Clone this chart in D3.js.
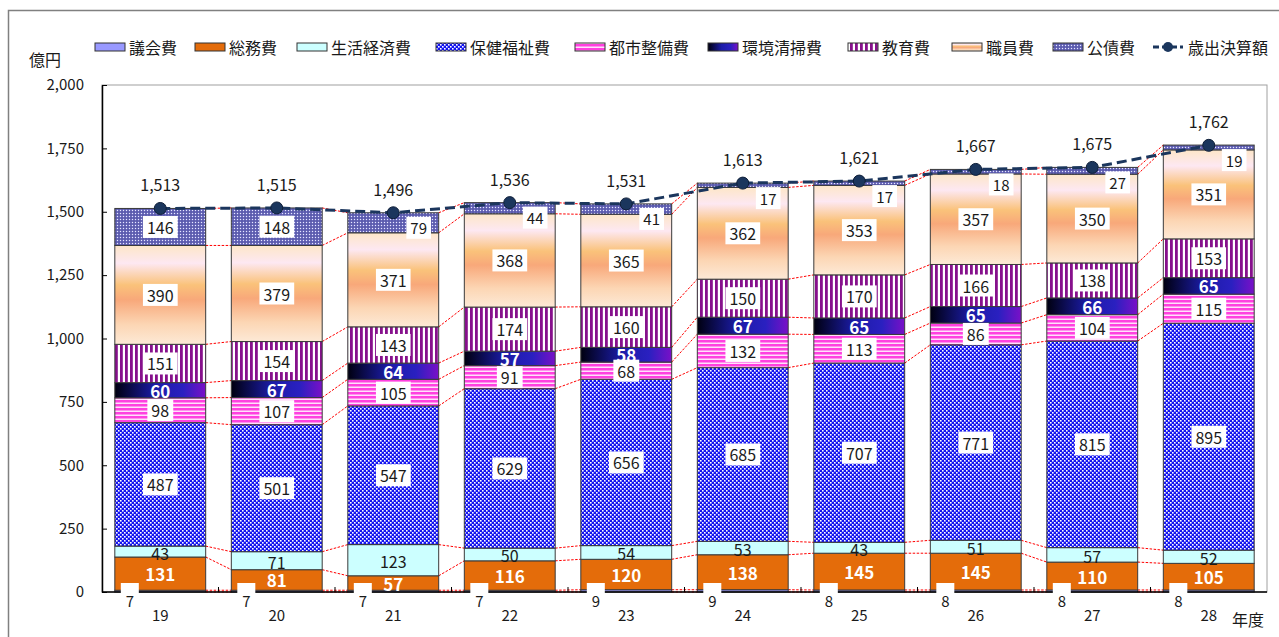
<!DOCTYPE html>
<html lang="ja">
<head>
<meta charset="utf-8">
<title>歳出決算額の推移</title>
<script src="https://d3js.org/d3.v7.min.js"></script>
<style>
body { margin: 0; background: #fff; }
text { font-family: "Noto Sans CJK JP", "Noto Sans", sans-serif; fill: #1a1a1a; }
</style>
</head>
<body>
<div id="main"></div>
<script>
var years = ["19", "20", "21", "22", "23", "24", "25", "26", "27", "28"];

// 億円, bottom of stack to top
var gikai    = [7, 7, 7, 7, 9, 9, 8, 8, 8, 8];
var somu     = [131, 81, 57, 116, 120, 138, 145, 145, 110, 105];
var seikatsu = [43, 71, 123, 50, 54, 53, 43, 51, 57, 52];
var hoken    = [487, 501, 547, 629, 656, 685, 707, 771, 815, 895];
var toshi    = [98, 107, 105, 91, 68, 132, 113, 86, 104, 115];
var kankyo   = [60, 67, 64, 57, 58, 67, 65, 65, 66, 65];
var kyoiku   = [151, 154, 143, 174, 160, 150, 170, 166, 138, 153];
var shokuin  = [390, 379, 371, 368, 365, 362, 353, 357, 350, 351];
var kosai    = [146, 148, 79, 44, 41, 17, 17, 18, 27, 19];
var total    = [1513, 1515, 1496, 1536, 1531, 1613, 1621, 1667, 1675, 1762];

var yTicks = [0, 250, 500, 750, 1000, 1250, 1500, 1750, 2000];

var series = [
    {name: "議会費", values: gikai, fill: "#9999ff", label: "below"},
    {name: "総務費", values: somu, fill: "#e46c0a", label: "bold"},
    {name: "生活経済費", values: seikatsu, fill: "#ccffff", label: "plain"},
    {name: "保健福祉費", values: hoken, fill: "url(#pHoken)", label: "box"},
    {name: "都市整備費", values: toshi, fill: "url(#pToshi)", label: "box"},
    {name: "環境清掃費", values: kankyo, fill: "url(#gKankyo)", label: "bold"},
    {name: "教育費", values: kyoiku, fill: "url(#pKyoiku)", label: "box"},
    {name: "職員費", values: shokuin, fill: "url(#gShokuin)", label: "box"},
    {name: "公債費", values: kosai, fill: "url(#pKosai)", label: "top"}
];

var width = 1279, height = 637;
var margin = {left: 102, right: 12, top: 85, bottom: 45};

var svg = d3.select("#main").append("svg")
    .attr("width", width)
    .attr("height", height);

// patterns & gradients
var defs = svg.append("defs");

var p = defs.append("pattern").attr("id", "pHoken").attr("patternUnits", "userSpaceOnUse")
    .attr("width", 4).attr("height", 4);
p.append("rect").attr("width", 4).attr("height", 4).attr("fill", "#1414f0");
p.append("rect").attr("width", 1.6).attr("height", 1.6).attr("fill", "#ffffff");
p.append("rect").attr("x", 2).attr("y", 2).attr("width", 1.6).attr("height", 1.6).attr("fill", "#ffffff");

p = defs.append("pattern").attr("id", "pToshi").attr("patternUnits", "userSpaceOnUse")
    .attr("width", 4).attr("height", 4);
p.append("rect").attr("width", 4).attr("height", 4).attr("fill", "#ff40e0");
p.append("rect").attr("y", 2.5).attr("width", 4).attr("height", 1.5).attr("fill", "#ffe0fa");

p = defs.append("pattern").attr("id", "pKyoiku").attr("patternUnits", "userSpaceOnUse")
    .attr("width", 5).attr("height", 5);
p.append("rect").attr("width", 5).attr("height", 5).attr("fill", "#ffffff");
p.append("rect").attr("width", 2.8).attr("height", 5).attr("fill", "#86108c");

p = defs.append("pattern").attr("id", "pKosai").attr("patternUnits", "userSpaceOnUse")
    .attr("width", 3).attr("height", 3);
p.append("rect").attr("width", 3).attr("height", 3).attr("fill", "#6c6cbc");
p.append("rect").attr("width", 1).attr("height", 1).attr("fill", "#e8e8ff");
p.append("rect").attr("x", 1.5).attr("y", 1.5).attr("width", 1).attr("height", 1).attr("fill", "#2c2c80");

var g1 = defs.append("linearGradient").attr("id", "gKankyo")
    .attr("x1", 0).attr("y1", 0).attr("x2", 1).attr("y2", 0);
g1.append("stop").attr("offset", "0%").attr("stop-color", "#000010");
g1.append("stop").attr("offset", "45%").attr("stop-color", "#1c1ca8");
g1.append("stop").attr("offset", "75%").attr("stop-color", "#2a20c0");
g1.append("stop").attr("offset", "100%").attr("stop-color", "#7a10c8");

var g2 = defs.append("linearGradient").attr("id", "gShokuin")
    .attr("x1", 0).attr("y1", 0).attr("x2", 0).attr("y2", 1);
g2.append("stop").attr("offset", "0%").attr("stop-color", "#fde6c8");
g2.append("stop").attr("offset", "18%").attr("stop-color", "#fde8f2");
g2.append("stop").attr("offset", "40%").attr("stop-color", "#fac27a");
g2.append("stop").attr("offset", "55%").attr("stop-color", "#f8a87a");
g2.append("stop").attr("offset", "80%").attr("stop-color", "#fcd6b4");
g2.append("stop").attr("offset", "100%").attr("stop-color", "#fde9d6");

// outer frame
svg.append("rect").attr("x", 8.5).attr("y", 10.5).attr("width", 1300).attr("height", 700)
    .attr("fill", "none").attr("stroke", "#808080").attr("stroke-width", 1.5);

var x = d3.scaleBand().domain(years)
    .range([margin.left, width - margin.right])
    .paddingInner(0.22).paddingOuter(0.11);
var y = d3.scaleLinear().domain([0, 2000]).range([height - margin.bottom, margin.top]);

// plot area border
svg.append("rect").attr("x", margin.left).attr("y", y(2000))
    .attr("width", width - margin.right - margin.left).attr("height", y(0) - y(2000))
    .attr("fill", "none").attr("stroke", "#a0a0a0").attr("stroke-width", 1);

// stack
var rows = years.map(function(yr, i) {
    var r = {year: yr};
    series.forEach(function(s) { r[s.name] = s.values[i]; });
    return r;
});
var stack = d3.stack().keys(series.map(function(s) { return s.name; }));
var stacked = stack(rows);

// red connectors between neighbouring bars
var conn = svg.append("g");
years.forEach(function(yr, i) {
    if (i === years.length - 1) return;
    var xa = x(yr) + x.bandwidth(), xb = x(years[i + 1]);
    var vals = [0].concat(stacked.map(function(l) { return l[i][1]; }));
    var nvals = [0].concat(stacked.map(function(l) { return l[i + 1][1]; }));
    vals.forEach(function(v, k) {
        conn.append("line")
            .attr("x1", xa).attr("y1", y(v)).attr("x2", xb).attr("y2", y(nvals[k]))
            .attr("stroke", "#ff0000").attr("stroke-width", 1).attr("stroke-dasharray", "2.5,1.5");
    });
});

// bars
var layers = svg.append("g").selectAll("g")
    .data(stacked)
    .enter().append("g")
    .attr("fill", function(d, i) { return series[i].fill; });

layers.selectAll("rect")
    .data(function(d) { return d; })
    .enter().append("rect")
    .attr("x", function(d) { return x(d.data.year); })
    .attr("y", function(d) { return y(d[1]); })
    .attr("width", x.bandwidth())
    .attr("height", function(d) { return y(d[0]) - y(d[1]); })
    .attr("stroke", "#3a3a3a")
    .attr("stroke-width", 1);

// axes
var yAxis = d3.axisLeft(y).tickValues(yTicks).tickFormat(d3.format(","))
    .tickSizeInner(-5).tickSizeOuter(0).tickPadding(18);
var ya = svg.append("g").attr("transform", "translate(" + margin.left + ",0)").call(yAxis);
ya.select(".domain").attr("stroke", "#000").attr("stroke-width", 1.5);
ya.selectAll(".tick line").attr("stroke", "#000");
ya.selectAll("text").style("font-size", "15px").attr("fill", "#1a1a1a");

var xa = svg.append("g").attr("transform", "translate(0," + y(0) + ")");
xa.append("line").attr("x1", margin.left).attr("x2", width - margin.right)
    .attr("stroke", "#000").attr("stroke-width", 1.5);
years.forEach(function(yr, i) {
    if (i === 0) return;
    var bx = x(yr) - x.step() * x.paddingInner() / 2;
    xa.append("line").attr("x1", bx).attr("x2", bx).attr("y1", 0).attr("y2", -5)
        .attr("stroke", "#000");
});
xa.selectAll(".yr").data(years).enter().append("text")
    .attr("x", function(d) { return x(d) + x.bandwidth() / 2; })
    .attr("y", 29)
    .attr("text-anchor", "middle")
    .style("font-size", "15px")
    .text(function(d) { return d; });

svg.append("text").attr("x", 1248).attr("y", 626).attr("text-anchor", "middle")
    .style("font-size", "16px").text("年度");
svg.append("text").attr("x", 45).attr("y", 66).attr("text-anchor", "middle")
    .style("font-size", "16px").text("億円");

// total line
var line = d3.line()
    .x(function(d, i) { return x(years[i]) + x.bandwidth() / 2; })
    .y(function(d) { return y(d); });
svg.append("path").datum(total)
    .attr("d", line)
    .attr("fill", "none")
    .attr("stroke", "#1b365d")
    .attr("stroke-width", 3)
    .attr("stroke-dasharray", "10,5");

// segment labels
var lab = svg.append("g");
function boxLabel(cx, cy, txt, size) {
    var t = lab.append("text").attr("x", cx).attr("y", cy)
        .attr("text-anchor", "middle").attr("dominant-baseline", "central")
        .style("font-size", size + "px").text(txt);
    var b = t.node().getBBox();
    lab.insert("rect", function() { return t.node(); })
        .attr("x", b.x - 4).attr("y", cy - 11).attr("width", b.width + 8).attr("height", 22)
        .attr("fill", "#fff");
}

stacked.forEach(function(layer, si) {
    var s = series[si];
    layer.forEach(function(d, i) {
        var x0 = x(years[i]), cx = x0 + x.bandwidth() / 2;
        var cy = (y(d[0]) + y(d[1])) / 2;
        var v = s.values[i];
        if (s.label === "below") {
            lab.append("rect").attr("x", x0 + 6).attr("y", 583).attr("width", 18).attr("height", 14)
                .attr("fill", "#fff");
            lab.append("text").attr("x", x0 + 15).attr("y", 607).attr("text-anchor", "middle")
                .style("font-size", "15px").text(v);
        } else if (s.label === "bold") {
            lab.append("text").attr("x", cx).attr("y", cy).attr("text-anchor", "middle")
                .attr("dominant-baseline", "central")
                .style("font-size", "17px").style("font-weight", "bold")
                .style("fill", "#fff").text(v);
        } else if (s.label === "plain") {
            lab.append("text").attr("x", cx).attr("y", cy + 1).attr("text-anchor", "middle")
                .attr("dominant-baseline", "central")
                .style("font-size", "16px").text(v);
        } else if (s.label === "top" && v < 100) {
            boxLabel(x0 + x.bandwidth() - 20, y(d[1]) + 15, v, 15);
        } else {
            boxLabel(cx, cy, v, 16);
        }
    });
});

// markers + total labels
svg.append("g").selectAll("circle").data(total).enter().append("circle")
    .attr("cx", function(d, i) { return x(years[i]) + x.bandwidth() / 2; })
    .attr("cy", function(d) { return y(d); })
    .attr("r", 6)
    .attr("fill", "#1b365d")
    .attr("stroke", "#0e1e38");

svg.append("g").selectAll("text").data(total).enter().append("text")
    .attr("x", function(d, i) { return x(years[i]) + x.bandwidth() / 2; })
    .attr("y", function(d) { return y(d) - 17; })
    .attr("text-anchor", "middle")
    .style("font-size", "16px")
    .text(d3.format(","));

// legend
var legendX = [95, 195, 297, 436, 575, 708, 848, 952, 1053];
var leg = svg.append("g");
series.forEach(function(s, i) {
    var lx = legendX[i];
    leg.append("rect").attr("x", lx).attr("y", 43).attr("width", 30).attr("height", 8)
        .attr("fill", s.fill).attr("stroke", "#333").attr("stroke-width", 1);
    leg.append("text").attr("x", lx + 34).attr("y", 47).attr("dominant-baseline", "central")
        .style("font-size", "16px").text(s.name);
});
leg.append("line").attr("x1", 1153).attr("x2", 1183).attr("y1", 47).attr("y2", 47)
    .attr("stroke", "#1b365d").attr("stroke-width", 3).attr("stroke-dasharray", "6,3");
leg.append("circle").attr("cx", 1168).attr("cy", 47).attr("r", 5).attr("fill", "#1b365d");
leg.append("text").attr("x", 1188).attr("y", 47).attr("dominant-baseline", "central")
    .style("font-size", "16px").text("歳出決算額");
</script>
</body>
</html>
